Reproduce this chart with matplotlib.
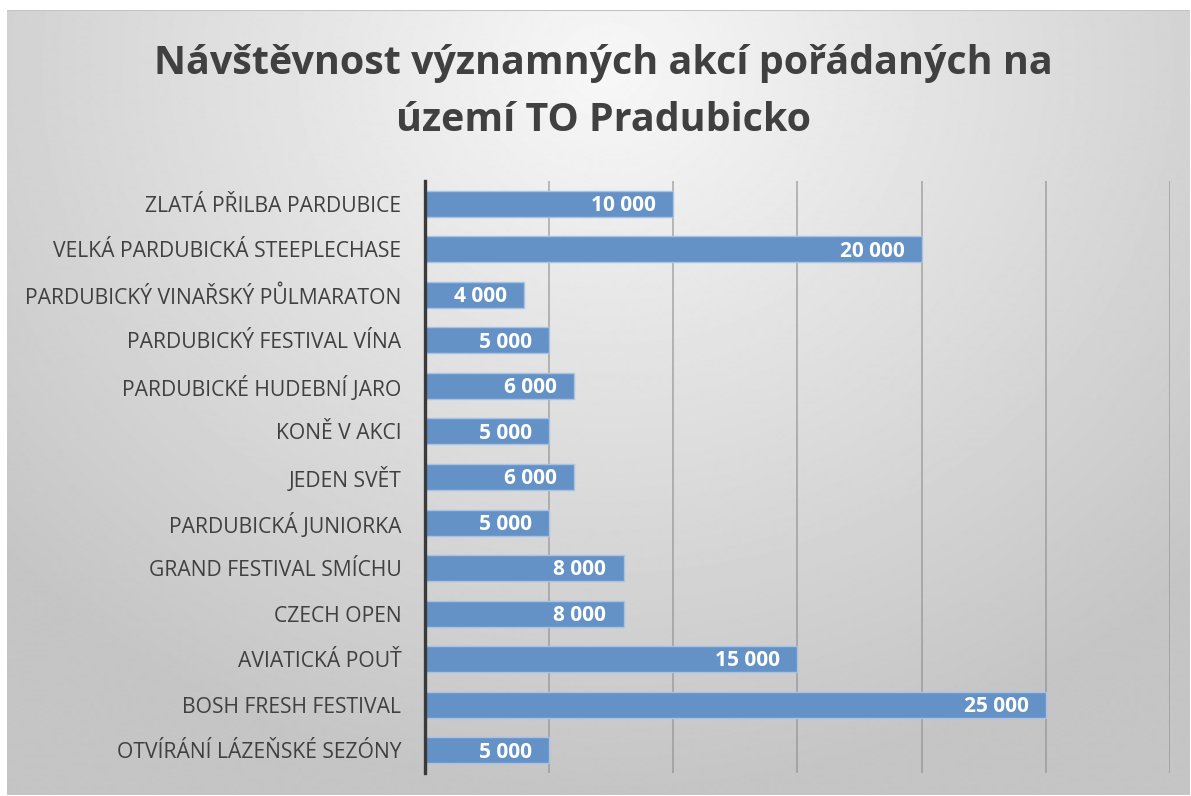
import numpy as np
import matplotlib
matplotlib.use("Agg")
import matplotlib.pyplot as plt

events = [
    "ZLATÁ PŘILBA PARDUBICE",
    "VELKÁ PARDUBICKÁ STEEPLECHASE",
    "PARDUBICKÝ VINAŘSKÝ PŮLMARATON",
    "PARDUBICKÝ FESTIVAL VÍNA",
    "PARDUBICKÉ HUDEBNÍ JARO",
    "KONĚ V AKCI",
    "JEDEN SVĚT",
    "PARDUBICKÁ JUNIORKA",
    "GRAND FESTIVAL SMÍCHU",
    "CZECH OPEN",
    "AVIATICKÁ POUŤ",
    "BOSH FRESH FESTIVAL",
    "OTVÍRÁNÍ LÁZEŇSKÉ SEZÓNY",
]
visitors = [10000, 20000, 4000, 5000, 6000, 5000, 6000, 5000, 8000, 8000, 15000, 25000, 5000]
grid_ticks = [0, 5000, 10000, 15000, 20000, 25000, 30000]

W, H = 1191, 796
fig = plt.figure(figsize=(W / 100, H / 100), dpi=100)
fig.patch.set_facecolor("white")

# pozadí s radiálním přechodem
bg = fig.add_axes([7 / W, 1 - 795 / H, (1190 - 7) / W, (795 - 10) / H])
yy, xx = np.mgrid[0:785, 0:1183]
d = np.sqrt(((xx - 600) / 900) ** 2 + ((yy - 60) / 800) ** 2)
shade = np.clip(0.97 - 0.22 * d, 0.77, 0.97)
bg.imshow(shade, cmap="gray", vmin=0, vmax=1, aspect="auto", interpolation="bilinear")
bg.set_axis_off()
bg.plot([0, 1182], [0, 0], color="#c4c4c4", lw=1.5)
bg.set_xlim(0, 1182)
bg.set_ylim(784, 0)

ax = fig.add_axes([425 / W, 1 - 773 / H, (1170 - 425) / W, (773 - 181) / H])
ax.patch.set_alpha(0)
ypos = np.arange(len(events))
ax.barh(ypos, visitors, height=0.57, color="#6592c6", edgecolor="#a7c2e4", linewidth=1.0, zorder=3)
ax.set_xlim(0, 30000)
ax.set_ylim(len(events) - 0.5, -0.5)
ax.set_xticks(grid_ticks)
ax.tick_params(axis="x", length=0, labelbottom=False)
ax.tick_params(axis="y", length=0, pad=17, labelsize=15.2, labelcolor="#404040")
ax.set_yticks(ypos)
ax.set_yticklabels(events, fontfamily="Open Sans")
ax.grid(axis="x", color="#8a8a8a", alpha=0.6, linewidth=1.3, zorder=0)
for s in ["top", "right", "bottom"]:
    ax.spines[s].set_visible(False)
ax.spines["left"].set_color("#3a3a3a")
ax.spines["left"].set_linewidth(2.4)
ax.spines["left"].set_zorder(4)

for y, v in zip(ypos, visitors):
    ax.text(v - 700, y + 0.04, f"{v:,}".replace(",", " "), ha="right", va="center",
            color="white", fontsize=15, fontweight="bold", fontfamily="Open Sans", zorder=5)

fig.text(603 / W, 1 - 92 / H, "Návštěvnost významných akcí pořádaných na\núzemí TO Pradubicko",
         ha="center", va="center", fontsize=28.4, fontweight="bold", color="#404040",
         fontfamily="Open Sans", linespacing=1.62)

fig.savefig("out.png", dpi=100)
